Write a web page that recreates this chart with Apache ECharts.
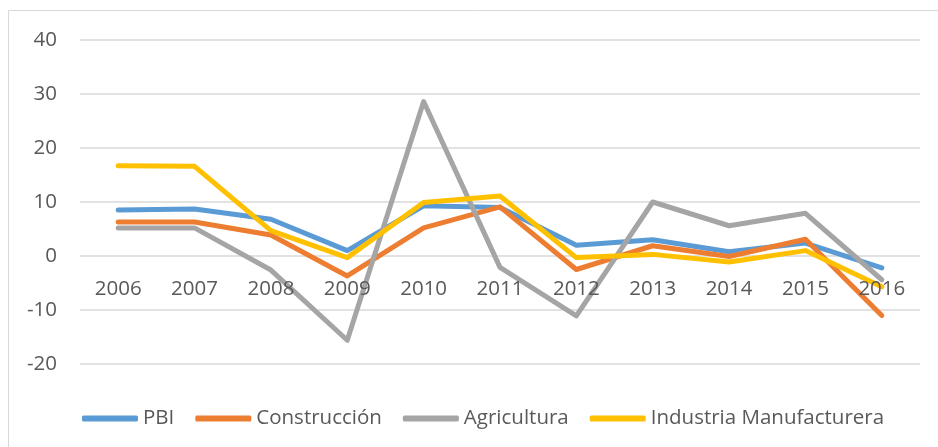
<!DOCTYPE html>
<html>
<head>
<meta charset="utf-8">
<script src="https://cdn.jsdelivr.net/npm/echarts@6/dist/echarts.min.js"></script>
<style>
  html, body { margin: 0; padding: 0; background: #fff; }
  #main { width: 938px; height: 447px; }
</style>
</head>
<body>
<div id="main"></div>
<script>
    // años y series
    var years = ['2006', '2007', '2008', '2009', '2010', '2011', '2012', '2013', '2014', '2015', '2016'];
    var pbi = [8.5, 8.7, 6.8, 1.0, 9.3, 9.0, 2.0, 3.0, 0.8, 2.4, -2.2];
    var construccion = [6.3, 6.3, 3.9, -3.7, 5.2, 9.1, -2.5, 1.9, -0.1, 3.1, -11.0];
    var agricultura = [5.2, 5.2, -2.6, -15.6, 28.6, -2.1, -11.1, 10.0, 5.6, 7.9, -4.4];
    var industria = [16.7, 16.6, 4.7, -0.3, 9.9, 11.1, -0.3, 0.3, -1.1, 1.0, -5.7];
    var seriesNames = ['PBI', 'Construcción', 'Agricultura', 'Industria Manufacturera'];
    var colors = ['#5B9BD5', '#ED7D31', '#A5A5A5', '#FFC000'];

    var font = 'Open Sans';
    var myChart = echarts.init(document.getElementById('main'));

    function linea(name, data, color) {
        return {
            name: name,
            type: 'line',
            data: data,
            symbol: 'none',
            smooth: false,
            lineStyle: { width: 5, color: color, cap: 'round', join: 'round' },
            itemStyle: { color: color }
        };
    }

    myChart.setOption({
        animation: false,
        color: colors,
        graphic: [{
            type: 'rect',
            shape: { x: 8.5, y: 10.5, width: 940, height: 450 },
            style: { fill: 'none', stroke: '#d9d9d9', lineWidth: 1 },
            silent: true
        }],
        grid: { left: 80, right: 18, top: 40, bottom: 83 },
        legend: {
            left: 77,
            top: 403,
            icon: 'roundRect',
            itemWidth: 56,
            itemHeight: 6,
            itemGap: 21,
            textStyle: { fontFamily: font, fontSize: 20.5, color: '#595959' },
            data: seriesNames
        },
        xAxis: {
            type: 'category',
            data: years,
            boundaryGap: true,
            z: 5,
            // etiquetas sobre la línea del cero (como en Excel): 364 - 256 = 108 px
            offset: -108,
            axisLine: { show: false, onZero: false },
            axisTick: { show: false },
            axisLabel: { fontFamily: font, fontSize: 20.5, color: '#595959', margin: 23 }
        },
        yAxis: {
            type: 'value',
            min: -20,
            max: 40,
            interval: 10,
            axisLine: { show: false },
            axisTick: { show: false },
            axisLabel: { fontFamily: font, fontSize: 20.5, color: '#595959', margin: 23 },
            splitLine: { lineStyle: { color: '#d9d9d9', width: 1.5 } }
        },
        series: [
            linea(seriesNames[0], pbi, colors[0]),
            linea(seriesNames[1], construccion, colors[1]),
            linea(seriesNames[2], agricultura, colors[2]),
            linea(seriesNames[3], industria, colors[3])
        ]
    });
</script>
</body>
</html>
